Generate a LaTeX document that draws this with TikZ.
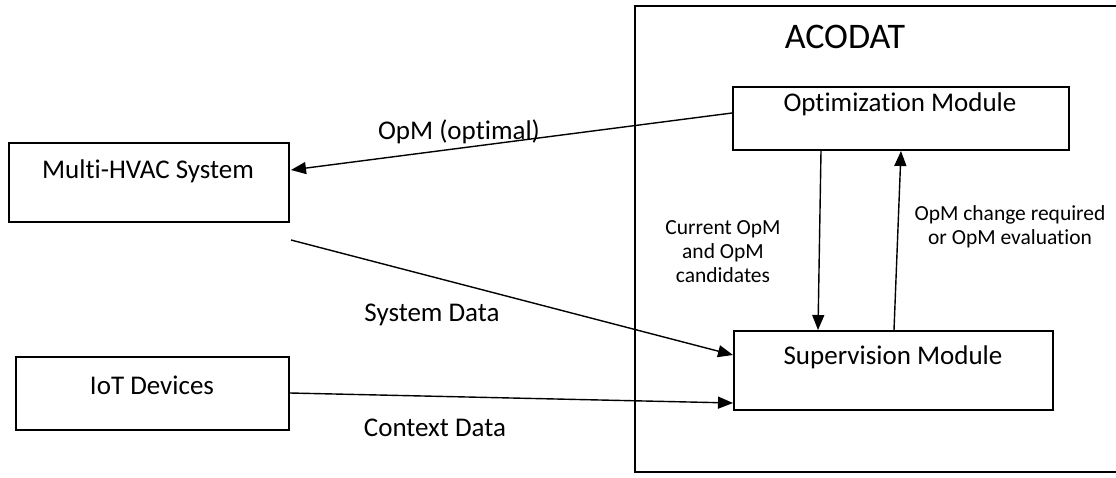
\documentclass[tikz,border=0pt]{standalone}
\usepackage{fontspec}
\setmainfont{Carlito}[Ligatures={NoCommon}]
\usetikzlibrary{arrows.meta,calc}
\begin{document}
\begin{tikzpicture}[x=1pt,y=-1pt,
  box/.style={draw=black,line width=2pt,rectangle,inner sep=0pt},
  outer/.style={draw=black,line width=2.8pt,rectangle,inner sep=0pt},
  lbl/.style={font=\fontsize{27}{31}\selectfont,inner sep=0pt},
  small/.style={font=\fontsize{21.5}{25}\selectfont,inner sep=0pt,align=center},
  conn/.style={line width=1.4pt,-{Triangle[length=15pt,width=12pt]}}]
\useasboundingbox[fill=white] (0,0) rectangle (1116,477);
% boxes
\node[outer,minimum width=490pt,minimum height=466pt] (acodat) at (880,239) {};
\node[font=\fontsize{36}{42}\selectfont,inner sep=0pt] (acodatT) at (845,37) {ACODAT};
\node[box,minimum width=336pt,minimum height=63pt] (opt) at (901,118.5) {};
\node[lbl] (optT) at (900,104) {Optimization Module};
\node[box,minimum width=319pt,minimum height=79pt] (sup) at (893.5,370.5) {};
\node[lbl] (supT) at (893,357) {Supervision Module};
\node[box,minimum width=280pt,minimum height=79pt] (hvac) at (149,182.5) {};
\node[lbl] (hvacT) at (148,171) {Multi-HVAC System};
\node[box,minimum width=273pt,minimum height=73pt] (iot) at (152.5,393.5) {};
\node[lbl] (iotT) at (152,385) {IoT Devices};
% connectors
\draw[conn] ($(opt.west)+(0,-5.5)$) -- ($(hvac.east)+(1,-12.5)$);
\draw[conn] ($(opt.south)+(-80,0)$) -- ($(sup.north)+(-75.5,0)$);
\draw[conn] ($(sup.north)+(0.5,0)$) -- (opt.south);
\draw[conn] ($(hvac.east)+(1,57.5)$) -- ($(sup.west)+(0,-15.5)$);
\draw[conn] ($(iot.east)+(0,-0.5)$) -- ($(sup.west)+(0,32.5)$);
% labels
\node[lbl] (l1) at (459,132) {OpM (optimal)};
\node[small] (l2) at (723,252) {Current OpM\\[-1pt]and OpM\\[-1pt]candidates};
\node[small] (l3) at (1010,227) {OpM change required\\[-1pt]or OpM evaluation};
\node[lbl] (l4) at (432,315) {System Data};
\node[lbl] (l5) at (435,428) {Context Data};
\end{tikzpicture}
\end{document}
